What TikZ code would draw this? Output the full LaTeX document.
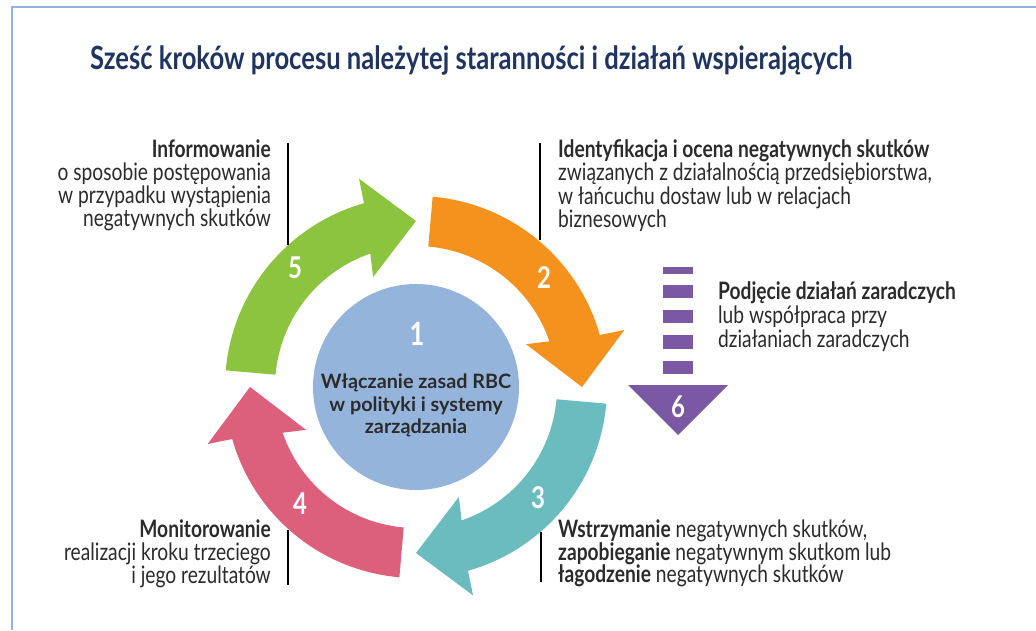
\documentclass[tikz,border=0pt]{standalone}
\usepackage{fontspec}
\setmainfont{Lato}[FakeStretch=0.8]
\newfontfamily\latowide{Lato}
\definecolor{corange}{HTML}{F5921E}
\definecolor{cgreen}{HTML}{8CC43F}
\definecolor{cteal}{HTML}{6ABCBF}
\definecolor{cpink}{HTML}{DC5F7B}
\definecolor{cblue}{HTML}{95B4DC}
\definecolor{cpurple}{HTML}{7A58A3}
\definecolor{cframe}{HTML}{95B3E0}
\definecolor{ctitle}{HTML}{1F3460}
\definecolor{ctext}{HTML}{2B2B2B}
\newcommand{\cyclearrow}[2]{%
  \fill[#2] ({#1+85}:191pt) arc[start angle={#1+85}, end angle={#1+15.8}, radius=191pt]
    -- ({#1+15.3}:216pt) -- ({#1}:166pt) -- ({#1+21.3}:118pt) -- ({#1+18.9}:141pt)
    arc[start angle={#1+18.9}, end angle={#1+85}, radius=141pt] -- cycle;}
\tikzset{
  body/.style={inner sep=0pt, text=ctext, font=\fontsize{24}{25}\selectfont},
  lineL/.style={body, anchor=base east},
  lineR/.style={body, anchor=base west},
  num/.style={inner sep=0pt, text=white, font=\fontsize{30}{30}\selectfont\bfseries},
  ctr/.style={inner sep=0pt, text=ctext, anchor=base, font=\latowide\fontsize{19.8}{22}\selectfont\bfseries},
  sep/.style={line width=2pt, black},
  bar/.style={fill=cpurple}
}
\begin{document}
\begin{tikzpicture}[x=1pt,y=1pt]
\useasboundingbox (0,0) rectangle (1036,630);
\fill[white] (0,0) rectangle (1036,630);
% frame
\draw[cframe, line width=2.5pt] (12,0) -- (12,623) -- (1036,623);
% title
\node[inner sep=0pt, anchor=base west, text=ctitle, font=\fontsize{32}{34}\selectfont\bfseries] (title) at (90,560) {Sześć kroków procesu należytej staranności i działań wspierających};
% cycle
\begin{scope}[shift={(416,243)}]
  \cyclearrow{0}{corange}
  \cyclearrow{90}{cgreen}
  \cyclearrow{-90}{cteal}
  \cyclearrow{180}{cpink}
  \fill[cblue] (0,0) circle[radius=103pt];
\end{scope}
\node[num, font=\fontsize{32}{32}\selectfont\bfseries] (n1) at (417,296.5) {1};
\node[ctr] (c1) at (416,242) {Włączanie zasad RBC};
\node[ctr] (c2) at (416,219) {w polityki i systemy};
\node[ctr] (c3) at (416,197) {zarządzania};
\node[num] (n5) at (295,362) {5};
\node[num] (n2) at (544,352) {2};
\node[num] (n3) at (538,132) {3};
\node[num] (n4) at (300,126) {4};
% step 6
\fill[bar] (663,356) rectangle (693,363);
\fill[bar] (663,332) rectangle (693,345);
\fill[bar] (663,307) rectangle (693,320);
\fill[bar] (663,281) rectangle (693,295);
\fill[bar] (663,256) rectangle (693,269);
\fill[cpurple] (628,245) -- (728,245) -- (678,195) -- cycle;
\node[num] (n6) at (678,223) {6};
% separators
\coordinate (sa1) at (288,487); \coordinate (sa2) at (288,385);
\coordinate (sb1) at (540,487); \coordinate (sb2) at (540,390);
\coordinate (sc1) at (288,100); \coordinate (sc2) at (288,45);
\coordinate (sd1) at (541,98); \coordinate (sd2) at (541,48);
\draw[sep] (sa1) -- (sa2);
\draw[sep] (sb1) -- (sb2);
\draw[sep] (sc1) -- (sc2);
\draw[sep] (sd1) -- (sd2);
% top left
\node[lineL] (tl1) at (271,472) {\bfseries Informowanie};
\node[lineL] (tl2) at (271,449) {o sposobie postępowania};
\node[lineL] (tl3) at (271,426) {w przypadku wystąpienia};
\node[lineL] (tl4) at (271,403) {negatywnych skutków};
% top right
\node[lineR] (tr1) at (558,472) {\bfseries Identyfikacja i ocena negatywnych skutków};
\node[lineR] (tr2) at (558,449) {związanych z działalnością przedsiębiorstwa,};
\node[lineR] (tr3) at (558,425) {w łańcuchu dostaw lub w relacjach};
\node[lineR] (tr4) at (558,402) {biznesowych};
% step 6 text
\node[lineR] (s61) at (718,330) {\bfseries Podjęcie działań zaradczych};
\node[lineR] (s62) at (718,306) {lub współpraca przy};
\node[lineR] (s63) at (718,283) {działaniach zaradczych};
% bottom left
\node[lineL] (bl1) at (271,93) {\bfseries Monitorowanie};
\node[lineL] (bl2) at (271,70) {realizacji kroku trzeciego};
\node[lineL] (bl3) at (271,47) {i jego rezultatów};
% bottom right
\node[lineR] (br1) at (558,93) {\textbf{Wstrzymanie} negatywnych skutków,};
\node[lineR] (br2) at (558,70) {\textbf{zapobieganie} negatywnym skutkom lub};
\node[lineR] (br3) at (558,48) {\textbf{łagodzenie} negatywnych skutków};
\end{tikzpicture}
\end{document}
